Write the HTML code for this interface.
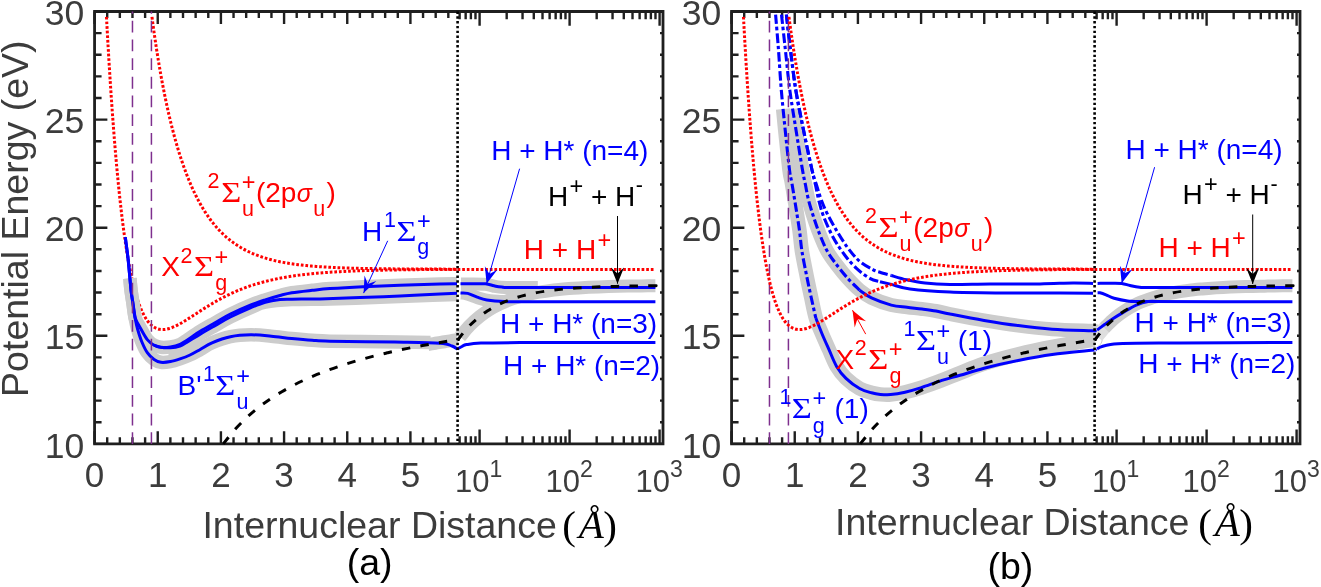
<!DOCTYPE html>
<html><head><meta charset="utf-8"><style>
html,body{margin:0;padding:0;background:#fff;overflow:hidden}
svg{display:block;will-change:transform}

</style></head><body>
<svg width="1321" height="587" viewBox="0 0 1321 587">
<rect width="1321" height="587" fill="#fff"/>
<g stroke="#1f1f1f" stroke-width="2.8" fill="none" stroke-linecap="square">
<path d="M94.57,11.5 L663,11.5 L663,443.9 L94.57,443.9 Z"/>
</g>
<path d="M94.57,443.9 h12.8 M663,443.9 h-3 M94.57,422.28 h7 M663,422.28 h-3 M94.57,400.66 h7 M663,400.66 h-3 M94.57,379.04 h7 M663,379.04 h-3 M94.57,357.42 h7 M663,357.42 h-3 M94.57,335.8 h12.8 M663,335.8 h-3 M94.57,314.18 h7 M663,314.18 h-3 M94.57,292.56 h7 M663,292.56 h-3 M94.57,270.94 h7 M663,270.94 h-3 M94.57,249.32 h7 M663,249.32 h-3 M94.57,227.7 h12.8 M663,227.7 h-3 M94.57,206.08 h7 M663,206.08 h-3 M94.57,184.46 h7 M663,184.46 h-3 M94.57,162.84 h7 M663,162.84 h-3 M94.57,141.22 h7 M663,141.22 h-3 M94.57,119.6 h12.8 M663,119.6 h-3 M94.57,97.98 h7 M663,97.98 h-3 M94.57,76.36 h7 M663,76.36 h-3 M94.57,54.74 h7 M663,54.74 h-3 M94.57,33.12 h7 M663,33.12 h-3 M94.57,11.5 h12.8 M663,11.5 h-3 M94.57,443.9 v-12.6 M94.57,11.5 v12.6 M107.2,443.9 v-6.6 M107.2,11.5 v6.6 M119.84,443.9 v-6.6 M119.84,11.5 v6.6 M132.47,443.9 v-6.6 M132.47,11.5 v6.6 M145.11,443.9 v-6.6 M145.11,11.5 v6.6 M157.74,443.9 v-12.6 M157.74,11.5 v12.6 M170.37,443.9 v-6.6 M170.37,11.5 v6.6 M183.01,443.9 v-6.6 M183.01,11.5 v6.6 M195.64,443.9 v-6.6 M195.64,11.5 v6.6 M208.28,443.9 v-6.6 M208.28,11.5 v6.6 M220.91,443.9 v-12.6 M220.91,11.5 v12.6 M233.54,443.9 v-6.6 M233.54,11.5 v6.6 M246.18,443.9 v-6.6 M246.18,11.5 v6.6 M258.81,443.9 v-6.6 M258.81,11.5 v6.6 M271.45,443.9 v-6.6 M271.45,11.5 v6.6 M284.08,443.9 v-12.6 M284.08,11.5 v12.6 M296.71,443.9 v-6.6 M296.71,11.5 v6.6 M309.35,443.9 v-6.6 M309.35,11.5 v6.6 M321.98,443.9 v-6.6 M321.98,11.5 v6.6 M334.62,443.9 v-6.6 M334.62,11.5 v6.6 M347.25,443.9 v-12.6 M347.25,11.5 v12.6 M359.88,443.9 v-6.6 M359.88,11.5 v6.6 M372.52,443.9 v-6.6 M372.52,11.5 v6.6 M385.15,443.9 v-6.6 M385.15,11.5 v6.6 M397.79,443.9 v-6.6 M397.79,11.5 v6.6 M410.42,443.9 v-12.6 M410.42,11.5 v12.6 M423.05,443.9 v-6.6 M423.05,11.5 v6.6 M435.69,443.9 v-6.6 M435.69,11.5 v6.6 M448.32,443.9 v-6.6 M448.32,11.5 v6.6 M459.63,443.9 v-7.7 M459.63,11.5 v7.7 M465.66,443.9 v-7.7 M465.66,11.5 v7.7 M470.88,443.9 v-7.7 M470.88,11.5 v7.7 M475.48,443.9 v-7.7 M475.48,11.5 v7.7 M479.6,443.9 v-14.3 M479.6,11.5 v14.3 M506.69,443.9 v-7.7 M506.69,11.5 v7.7 M522.54,443.9 v-7.7 M522.54,11.5 v7.7 M533.79,443.9 v-7.7 M533.79,11.5 v7.7 M542.51,443.9 v-7.7 M542.51,11.5 v7.7 M549.63,443.9 v-7.7 M549.63,11.5 v7.7 M555.66,443.9 v-7.7 M555.66,11.5 v7.7 M560.88,443.9 v-7.7 M560.88,11.5 v7.7 M565.48,443.9 v-7.7 M565.48,11.5 v7.7 M569.6,443.9 v-14.3 M569.6,11.5 v14.3 M596.69,443.9 v-7.7 M596.69,11.5 v7.7 M612.54,443.9 v-7.7 M612.54,11.5 v7.7 M623.79,443.9 v-7.7 M623.79,11.5 v7.7 M632.51,443.9 v-7.7 M632.51,11.5 v7.7 M639.63,443.9 v-7.7 M639.63,11.5 v7.7 M645.66,443.9 v-7.7 M645.66,11.5 v7.7 M650.88,443.9 v-7.7 M650.88,11.5 v7.7 M655.48,443.9 v-7.7 M655.48,11.5 v7.7 M659.6,443.9 v-14.3 M659.6,11.5 v14.3" stroke="#1f1f1f" stroke-width="2.4" fill="none"/>
<g font-family="Liberation Sans, sans-serif" font-size="35.5" fill="#3c3c3c" text-anchor="end">
<text x="84.3" y="457.5">10</text>
<text x="84.3" y="349.4">15</text>
<text x="84.3" y="241.3">20</text>
<text x="84.3" y="133.2">25</text>
<text x="84.3" y="25.1">30</text>
</g>
<g font-family="Liberation Sans, sans-serif" font-size="35" fill="#3c3c3c" text-anchor="middle">
<text x="94.57" y="487">0</text>
<text x="157.74" y="487">1</text>
<text x="220.91" y="487">2</text>
<text x="284.08" y="487">3</text>
<text x="347.25" y="487">4</text>
<text x="410.42" y="487">5</text>
</g>
<g font-family="Liberation Sans, sans-serif" fill="#3c3c3c">
<text x="455" y="492" font-size="31">10<tspan font-size="23" dy="-15.5">1</tspan></text>
<text x="545.5" y="492" font-size="31">10<tspan font-size="23" dy="-15.5">2</tspan></text>
<text x="635.4" y="492" font-size="31">10<tspan font-size="23" dy="-15.5">3</tspan></text>
</g>
<text x="202.45" y="537.9" font-family="Liberation Sans, sans-serif" font-size="37.5" fill="#3c3c3c">Internuclear Distance</text>
<g font-family="Liberation Serif, serif" font-size="41" fill="#000">
<text x="562.2" y="538.8">(</text>
<text x="578.75" y="538.3" font-style="italic">Å</text>
<text x="603.25" y="538.8">)</text>
</g>
<text x="346.7" y="575.3" font-family="Liberation Sans, sans-serif" font-size="37.5" fill="#000">(a)</text>
<g stroke="#1f1f1f" stroke-width="2.8" fill="none" stroke-linecap="square">
<path d="M731.57,11.5 L1300,11.5 L1300,443.9 L731.57,443.9 Z"/>
</g>
<path d="M731.57,443.9 h12.8 M1300,443.9 h-3 M731.57,422.28 h7 M1300,422.28 h-3 M731.57,400.66 h7 M1300,400.66 h-3 M731.57,379.04 h7 M1300,379.04 h-3 M731.57,357.42 h7 M1300,357.42 h-3 M731.57,335.8 h12.8 M1300,335.8 h-3 M731.57,314.18 h7 M1300,314.18 h-3 M731.57,292.56 h7 M1300,292.56 h-3 M731.57,270.94 h7 M1300,270.94 h-3 M731.57,249.32 h7 M1300,249.32 h-3 M731.57,227.7 h12.8 M1300,227.7 h-3 M731.57,206.08 h7 M1300,206.08 h-3 M731.57,184.46 h7 M1300,184.46 h-3 M731.57,162.84 h7 M1300,162.84 h-3 M731.57,141.22 h7 M1300,141.22 h-3 M731.57,119.6 h12.8 M1300,119.6 h-3 M731.57,97.98 h7 M1300,97.98 h-3 M731.57,76.36 h7 M1300,76.36 h-3 M731.57,54.74 h7 M1300,54.74 h-3 M731.57,33.12 h7 M1300,33.12 h-3 M731.57,11.5 h12.8 M1300,11.5 h-3 M731.57,443.9 v-12.6 M731.57,11.5 v12.6 M744.2,443.9 v-6.6 M744.2,11.5 v6.6 M756.84,443.9 v-6.6 M756.84,11.5 v6.6 M769.47,443.9 v-6.6 M769.47,11.5 v6.6 M782.11,443.9 v-6.6 M782.11,11.5 v6.6 M794.74,443.9 v-12.6 M794.74,11.5 v12.6 M807.37,443.9 v-6.6 M807.37,11.5 v6.6 M820.01,443.9 v-6.6 M820.01,11.5 v6.6 M832.64,443.9 v-6.6 M832.64,11.5 v6.6 M845.28,443.9 v-6.6 M845.28,11.5 v6.6 M857.91,443.9 v-12.6 M857.91,11.5 v12.6 M870.54,443.9 v-6.6 M870.54,11.5 v6.6 M883.18,443.9 v-6.6 M883.18,11.5 v6.6 M895.81,443.9 v-6.6 M895.81,11.5 v6.6 M908.45,443.9 v-6.6 M908.45,11.5 v6.6 M921.08,443.9 v-12.6 M921.08,11.5 v12.6 M933.71,443.9 v-6.6 M933.71,11.5 v6.6 M946.35,443.9 v-6.6 M946.35,11.5 v6.6 M958.98,443.9 v-6.6 M958.98,11.5 v6.6 M971.62,443.9 v-6.6 M971.62,11.5 v6.6 M984.25,443.9 v-12.6 M984.25,11.5 v12.6 M996.88,443.9 v-6.6 M996.88,11.5 v6.6 M1009.52,443.9 v-6.6 M1009.52,11.5 v6.6 M1022.15,443.9 v-6.6 M1022.15,11.5 v6.6 M1034.79,443.9 v-6.6 M1034.79,11.5 v6.6 M1047.42,443.9 v-12.6 M1047.42,11.5 v12.6 M1060.05,443.9 v-6.6 M1060.05,11.5 v6.6 M1072.69,443.9 v-6.6 M1072.69,11.5 v6.6 M1085.32,443.9 v-6.6 M1085.32,11.5 v6.6 M1096.63,443.9 v-7.7 M1096.63,11.5 v7.7 M1102.66,443.9 v-7.7 M1102.66,11.5 v7.7 M1107.88,443.9 v-7.7 M1107.88,11.5 v7.7 M1112.48,443.9 v-7.7 M1112.48,11.5 v7.7 M1116.6,443.9 v-14.3 M1116.6,11.5 v14.3 M1143.69,443.9 v-7.7 M1143.69,11.5 v7.7 M1159.54,443.9 v-7.7 M1159.54,11.5 v7.7 M1170.79,443.9 v-7.7 M1170.79,11.5 v7.7 M1179.51,443.9 v-7.7 M1179.51,11.5 v7.7 M1186.63,443.9 v-7.7 M1186.63,11.5 v7.7 M1192.66,443.9 v-7.7 M1192.66,11.5 v7.7 M1197.88,443.9 v-7.7 M1197.88,11.5 v7.7 M1202.48,443.9 v-7.7 M1202.48,11.5 v7.7 M1206.6,443.9 v-14.3 M1206.6,11.5 v14.3 M1233.69,443.9 v-7.7 M1233.69,11.5 v7.7 M1249.54,443.9 v-7.7 M1249.54,11.5 v7.7 M1260.79,443.9 v-7.7 M1260.79,11.5 v7.7 M1269.51,443.9 v-7.7 M1269.51,11.5 v7.7 M1276.63,443.9 v-7.7 M1276.63,11.5 v7.7 M1282.66,443.9 v-7.7 M1282.66,11.5 v7.7 M1287.88,443.9 v-7.7 M1287.88,11.5 v7.7 M1292.48,443.9 v-7.7 M1292.48,11.5 v7.7 M1296.6,443.9 v-14.3 M1296.6,11.5 v14.3" stroke="#1f1f1f" stroke-width="2.4" fill="none"/>
<g font-family="Liberation Sans, sans-serif" font-size="35.5" fill="#3c3c3c" text-anchor="end">
<text x="721.3" y="457.5">10</text>
<text x="721.3" y="349.4">15</text>
<text x="721.3" y="241.3">20</text>
<text x="721.3" y="133.2">25</text>
<text x="721.3" y="25.1">30</text>
</g>
<g font-family="Liberation Sans, sans-serif" font-size="35" fill="#3c3c3c" text-anchor="middle">
<text x="731.57" y="487">0</text>
<text x="794.74" y="487">1</text>
<text x="857.91" y="487">2</text>
<text x="921.08" y="487">3</text>
<text x="984.25" y="487">4</text>
<text x="1047.42" y="487">5</text>
</g>
<g font-family="Liberation Sans, sans-serif" fill="#3c3c3c">
<text x="1092" y="492" font-size="31">10<tspan font-size="23" dy="-15.5">1</tspan></text>
<text x="1182.5" y="492" font-size="31">10<tspan font-size="23" dy="-15.5">2</tspan></text>
<text x="1272.4" y="492" font-size="31">10<tspan font-size="23" dy="-15.5">3</tspan></text>
</g>
<text x="835.1" y="535.1" font-family="Liberation Sans, sans-serif" font-size="37.5" fill="#3c3c3c">Internuclear Distance</text>
<g font-family="Liberation Serif, serif" font-size="41" fill="#000">
<text x="1198.2" y="536.5">(</text>
<text x="1214.75" y="536" font-style="italic">Å</text>
<text x="1239.25" y="536.5">)</text>
</g>
<text x="987.4" y="578.7" font-family="Liberation Sans, sans-serif" font-size="37.5" fill="#000">(b)</text>
<path d="M106.47,16.91 C106.53,18.08 106.72,21.64 106.85,23.97 C106.98,26.31 107.1,28.62 107.23,30.9 C107.36,33.19 107.48,35.46 107.61,37.7 C107.73,39.95 107.86,42.17 107.99,44.37 C108.11,46.58 108.24,48.76 108.37,50.92 C108.49,53.08 108.62,55.21 108.75,57.33 C108.87,59.45 109,61.55 109.12,63.62 C109.25,65.7 109.38,67.76 109.5,69.79 C109.63,71.83 109.76,73.85 109.88,75.85 C110.01,77.84 110.13,79.82 110.26,81.78 C110.39,83.74 110.51,85.68 110.64,87.6 C110.77,89.52 110.89,91.42 111.02,93.3 C111.15,95.18 111.27,97.05 111.4,98.89 C111.52,100.74 111.65,102.57 111.78,104.38 C111.9,106.19 112.03,107.98 112.16,109.75 C112.28,111.53 112.41,113.28 112.54,115.02 C112.66,116.76 112.79,118.48 112.91,120.19 C113.04,121.89 113.15,123.31 113.29,125.25 C113.44,127.19 113.63,129.67 113.8,131.84 C113.97,134.01 114.14,136.15 114.3,138.26 C114.47,140.37 114.64,142.46 114.81,144.51 C114.98,146.57 115.15,148.59 115.31,150.59 C115.48,152.59 115.65,154.56 115.82,156.51 C115.99,158.46 116.16,160.38 116.33,162.27 C116.49,164.16 116.66,166.03 116.83,167.87 C117,169.71 117.17,171.53 117.34,173.32 C117.5,175.12 117.67,176.88 117.84,178.63 C118.01,180.37 118.18,182.09 118.35,183.78 C118.52,185.48 118.66,186.95 118.85,188.8 C119.04,190.65 119.27,192.88 119.48,194.87 C119.69,196.86 119.91,198.82 120.12,200.74 C120.33,202.66 120.54,204.55 120.75,206.4 C120.96,208.25 121.17,210.07 121.38,211.86 C121.59,213.65 121.8,215.41 122.01,217.13 C122.22,218.86 122.41,220.39 122.64,222.22 C122.87,224.04 123.15,226.17 123.4,228.08 C123.65,229.99 123.91,231.86 124.16,233.69 C124.41,235.52 124.66,237.31 124.92,239.06 C125.17,240.81 125.4,242.38 125.67,244.19 C125.95,245.99 126.26,248.04 126.56,249.89 C126.85,251.74 127.15,253.54 127.44,255.3 C127.74,257.05 128.01,258.65 128.33,260.42 C128.64,262.2 129,264.16 129.34,265.95 C129.68,267.73 129.99,269.36 130.35,271.14 C130.71,272.91 131.11,274.84 131.49,276.59 C131.87,278.34 132.22,279.95 132.62,281.66 C133.02,283.37 133.44,285.12 133.89,286.86 C134.33,288.6 134.79,290.37 135.28,292.1 C135.76,293.84 136.27,295.58 136.79,297.27 C137.32,298.97 137.87,300.66 138.43,302.29 C139,303.91 139.57,305.47 140.2,307.05 C140.84,308.62 141.49,310.19 142.23,311.75 C142.96,313.31 143.76,314.93 144.63,316.42 C145.49,317.92 146.39,319.38 147.41,320.73 C148.42,322.08 149.47,323.38 150.69,324.52 C151.91,325.65 153.26,326.76 154.73,327.55 C156.21,328.35 157.89,328.98 159.53,329.3 C161.18,329.63 162.92,329.63 164.59,329.49 C166.25,329.35 167.89,328.93 169.51,328.46 C171.14,327.98 172.76,327.31 174.32,326.63 C175.87,325.96 177.37,325.18 178.86,324.38 C180.36,323.59 181.83,322.73 183.29,321.87 C184.74,321 186.15,320.12 187.58,319.22 C189.01,318.32 190.44,317.39 191.88,316.46 C193.31,315.54 194.74,314.6 196.17,313.67 C197.6,312.73 199.04,311.8 200.47,310.88 C201.9,309.95 203.33,309.03 204.76,308.13 C206.2,307.23 207.63,306.34 209.06,305.47 C210.49,304.59 211.9,303.75 213.35,302.9 C214.81,302.05 216.3,301.19 217.78,300.37 C219.25,299.55 220.7,298.76 222.2,297.97 C223.69,297.19 225.23,296.4 226.75,295.65 C228.26,294.9 229.76,294.18 231.29,293.47 C232.83,292.76 234.41,292.05 235.97,291.38 C237.53,290.71 239.09,290.06 240.64,289.44 C242.2,288.82 243.74,288.23 245.32,287.65 C246.9,287.07 248.52,286.49 250.12,285.95 C251.72,285.41 253.32,284.89 254.92,284.39 C256.52,283.9 258.1,283.43 259.72,282.97 C261.34,282.51 263.01,282.06 264.65,281.63 C266.29,281.21 267.93,280.8 269.58,280.41 C271.22,280.03 272.86,279.66 274.5,279.31 C276.15,278.96 277.79,278.63 279.43,278.31 C281.07,277.99 282.69,277.69 284.36,277.4 C286.02,277.11 287.73,276.82 289.41,276.56 C291.1,276.29 292.78,276.04 294.46,275.8 C296.15,275.56 297.83,275.33 299.52,275.12 C301.2,274.9 302.89,274.7 304.57,274.5 C306.26,274.31 307.94,274.12 309.63,273.95 C311.31,273.77 312.99,273.61 314.68,273.45 C316.36,273.3 318.05,273.15 319.73,273.01 C321.42,272.87 323.1,272.73 324.79,272.61 C326.47,272.48 328.16,272.36 329.84,272.25 C331.52,272.13 333.21,272.03 334.89,271.93 C336.58,271.82 338.26,271.73 339.95,271.64 C341.63,271.55 343.32,271.46 345,271.38 C346.69,271.3 348.37,271.22 350.05,271.15 C351.74,271.08 353.42,271.01 355.11,270.94 C356.79,270.88 358.48,270.82 360.16,270.76 C361.85,270.7 363.53,270.65 365.22,270.59 C366.9,270.54 368.58,270.49 370.27,270.45 C371.95,270.4 373.64,270.35 375.32,270.31 C377.01,270.27 378.69,270.23 380.38,270.19 C382.06,270.16 383.75,270.12 385.43,270.09 C387.11,270.06 388.8,270.02 390.48,270 C392.17,269.97 393.85,269.94 395.54,269.91 C397.22,269.88 398.91,269.86 400.59,269.84 C402.28,269.81 403.96,269.79 405.64,269.77 C407.33,269.75 409.01,269.73 410.7,269.71 C412.38,269.69 414.07,269.67 415.75,269.65 C417.44,269.64 419.12,269.62 420.8,269.61 C422.49,269.59 424.17,269.58 425.86,269.56 C427.54,269.55 429.23,269.54 430.91,269.53 C432.6,269.51 434.28,269.5 435.97,269.49 C437.65,269.48 439.33,269.47 441.02,269.46 C442.7,269.45 444.39,269.44 446.07,269.43 C447.76,269.43 449.44,269.42 451.13,269.41 C452.81,269.4 455.11,269.39 456.18,269.39 C457.25,269.38 457.32,269.38 457.54,269.38" fill="none" stroke="#ff0000" stroke-width="3" stroke-dasharray="2.7 1.9" />
<path d="M151.97,16.9 C152.1,17.86 152.48,20.75 152.73,22.63 C152.98,24.5 153.23,26.36 153.49,28.18 C153.74,30.01 153.99,31.81 154.24,33.58 C154.5,35.36 154.75,37.11 155,38.83 C155.25,40.56 155.51,42.26 155.76,43.94 C156.01,45.62 156.24,47.15 156.52,48.91 C156.79,50.68 157.11,52.7 157.4,54.55 C157.7,56.4 157.99,58.22 158.29,60.01 C158.58,61.8 158.88,63.57 159.17,65.31 C159.47,67.05 159.76,68.76 160.06,70.45 C160.35,72.14 160.62,73.69 160.94,75.44 C161.26,77.19 161.61,79.16 161.95,80.97 C162.29,82.78 162.62,84.57 162.96,86.32 C163.3,88.07 163.64,89.8 163.97,91.5 C164.31,93.2 164.63,94.77 164.98,96.51 C165.34,98.26 165.74,100.18 166.12,101.97 C166.5,103.76 166.88,105.51 167.26,107.23 C167.64,108.96 168.02,110.65 168.39,112.32 C168.77,113.99 169.13,115.54 169.53,117.23 C169.93,118.93 170.37,120.77 170.79,122.5 C171.22,124.22 171.64,125.91 172.06,127.56 C172.48,129.22 172.88,130.77 173.32,132.45 C173.76,134.12 174.25,135.93 174.71,137.62 C175.17,139.3 175.62,140.89 176.1,142.58 C176.59,144.27 177.11,146.07 177.62,147.77 C178.12,149.46 178.61,151.05 179.13,152.74 C179.66,154.42 180.23,156.21 180.78,157.88 C181.32,159.56 181.85,161.14 182.42,162.8 C182.99,164.46 183.6,166.2 184.19,167.84 C184.78,169.48 185.34,171.02 185.96,172.64 C186.57,174.25 187.22,175.94 187.85,177.52 C188.48,179.11 189.09,180.6 189.75,182.16 C190.4,183.71 191.07,185.27 191.77,186.84 C192.46,188.4 193.18,189.97 193.91,191.53 C194.65,193.09 195.41,194.66 196.19,196.21 C196.97,197.76 197.77,199.31 198.59,200.84 C199.41,202.37 200.25,203.89 201.12,205.39 C201.98,206.89 202.86,208.38 203.77,209.84 C204.67,211.31 205.6,212.75 206.55,214.17 C207.5,215.59 208.47,216.99 209.45,218.36 C210.44,219.73 211.43,221.06 212.49,222.4 C213.54,223.74 214.66,225.1 215.77,226.4 C216.89,227.7 218.02,228.97 219.18,230.2 C220.34,231.43 221.5,232.61 222.72,233.78 C223.94,234.96 225.23,236.14 226.51,237.26 C227.8,238.37 229.1,239.45 230.43,240.49 C231.75,241.53 233.1,242.52 234.47,243.48 C235.84,244.44 237.21,245.35 238.64,246.24 C240.07,247.14 241.57,248.02 243.06,248.85 C244.56,249.68 246.09,250.47 247.61,251.22 C249.13,251.96 250.62,252.65 252.16,253.31 C253.69,253.98 255.25,254.61 256.83,255.21 C258.41,255.82 260.03,256.39 261.63,256.93 C263.23,257.46 264.81,257.96 266.43,258.43 C268.06,258.91 269.72,259.36 271.36,259.79 C273,260.21 274.65,260.6 276.29,260.97 C277.93,261.34 279.57,261.68 281.22,262 C282.86,262.33 284.48,262.62 286.14,262.91 C287.81,263.19 289.51,263.47 291.2,263.72 C292.88,263.97 294.57,264.2 296.25,264.42 C297.93,264.64 299.62,264.85 301.3,265.04 C302.99,265.23 304.67,265.41 306.36,265.58 C308.04,265.74 309.73,265.9 311.41,266.04 C313.1,266.19 314.78,266.32 316.46,266.45 C318.15,266.58 319.83,266.69 321.52,266.8 C323.2,266.92 324.89,267.02 326.57,267.11 C328.26,267.21 329.94,267.3 331.63,267.38 C333.31,267.47 334.99,267.54 336.68,267.62 C338.36,267.69 340.05,267.76 341.73,267.82 C343.42,267.89 345.1,267.95 346.79,268 C348.47,268.06 350.16,268.11 351.84,268.16 C353.52,268.2 355.21,268.25 356.89,268.29 C358.58,268.33 360.26,268.37 361.95,268.41 C363.63,268.45 365.32,268.48 367,268.51 C368.69,268.54 370.37,268.57 372.05,268.6 C373.74,268.63 375.42,268.66 377.11,268.68 C378.79,268.7 380.48,268.73 382.16,268.75 C383.85,268.77 385.53,268.79 387.22,268.81 C388.9,268.83 390.58,268.84 392.27,268.86 C393.95,268.88 395.64,268.89 397.32,268.9 C399.01,268.92 400.69,268.93 402.38,268.94 C404.06,268.96 405.75,268.97 407.43,268.98 C409.11,268.99 410.8,269 412.48,269.01 C414.17,269.02 415.85,269.03 417.54,269.03 C419.22,269.04 420.91,269.05 422.59,269.06 C424.27,269.06 425.96,269.07 427.64,269.08 C429.33,269.08 431.01,269.09 432.7,269.09 C434.38,269.1 436.07,269.1 437.75,269.11 C439.44,269.11 441.12,269.12 442.8,269.12 C444.49,269.13 446.17,269.13 447.86,269.13 C449.54,269.14 451.3,269.14 452.91,269.14 C454.53,269.15 456.77,269.15 457.54,269.15" fill="none" stroke="#ff0000" stroke-width="3" stroke-dasharray="2.7 1.9" />
<path d="M129.92,278.4 C130.1,280.33 130.49,285.8 131,290 C131.51,294.2 132.3,298.93 133,303.6 C133.7,308.27 133.95,313.9 135.2,318 C136.45,322.1 138.48,324.6 140.5,328.2 C142.52,331.8 145.03,336.77 147.3,339.6 C149.57,342.43 151.83,343.92 154.1,345.2 C156.37,346.48 158.17,347.02 160.9,347.3 C163.63,347.58 167.32,347.38 170.5,346.9 C173.68,346.42 177.32,345.48 180,344.4 C182.68,343.32 183.23,342.58 186.6,340.4 C189.97,338.22 195.47,334.23 200.2,331.3 C204.93,328.37 209.97,325.65 215,322.8 C220.03,319.95 224.42,317.17 230.4,314.2 C236.38,311.23 245.1,307.38 250.9,305 C256.7,302.62 260.35,301.48 265.2,299.9 C270.05,298.32 275.57,296.7 280,295.5 C284.43,294.3 286.43,293.57 291.8,292.7 C297.17,291.83 305.83,290.98 312.2,290.3 C318.57,289.62 321.53,289.2 330,288.6 C338.47,288 351.33,287.25 363,286.7 C374.67,286.15 387.17,285.75 400,285.3 C412.83,284.85 430.5,284.27 440,284 C449.5,283.73 454.17,283.75 457,283.7" fill="none" stroke="#cccccc" stroke-width="13.5" stroke-linecap="butt"/>
<path d="M168,349.2 C169.33,349.07 172.9,349.43 176,348.4 C179.1,347.37 182.57,345.38 186.6,343 C190.63,340.62 195.47,337 200.2,334.1 C204.93,331.2 209.97,328.45 215,325.6 C220.03,322.75 224.42,320 230.4,317 C236.38,314 245.1,310.07 250.9,307.6 C256.7,305.13 258.38,303.53 265.2,302.2 C272.02,300.87 281,300.13 291.8,299.6 C302.6,299.07 315.3,299.38 330,299 C344.7,298.62 365,297.83 380,297.3 C395,296.77 407.17,296.27 420,295.8 C432.83,295.33 450.83,294.72 457,294.5" fill="none" stroke="#cccccc" stroke-width="13.5" stroke-linecap="butt"/>
<path d="M129.92,278.4 C130.1,280.33 130.49,285.8 131,290 C131.51,294.2 132.25,298.6 133,303.6 C133.75,308.6 134.72,315.68 135.5,320 C136.28,324.32 136.65,325.87 137.7,329.5 C138.75,333.13 140.2,337.93 141.8,341.8 C143.4,345.67 145.25,349.75 147.3,352.7 C149.35,355.65 151.83,357.9 154.1,359.5 C156.37,361.1 158.17,361.95 160.9,362.3 C163.63,362.65 167.32,362.17 170.5,361.6 C173.68,361.03 176.75,360 180,358.9 C183.25,357.8 186.63,356.57 190,355 C193.37,353.43 196.53,351.53 200.2,349.5 C203.87,347.47 206.97,344.93 212,342.8 C217.03,340.67 223.92,338.03 230.4,336.7 C236.88,335.37 244.08,334.88 250.9,334.8 C257.72,334.72 264.48,335.58 271.3,336.2 C278.12,336.82 284.98,337.82 291.8,338.5 C298.62,339.18 305.83,339.85 312.2,340.3 C318.57,340.75 318.7,340.95 330,341.2 C341.3,341.45 363.25,341.6 380,341.8 C396.75,342 422.08,342.3 430.5,342.4" fill="none" stroke="#cccccc" stroke-width="13.5" stroke-linecap="butt"/>
<path d="M461,283.9 C462.5,283.9 466,283.85 470,283.9 C474,283.95 481.17,283.85 485,284.2 C488.83,284.55 490.33,285.5 493,286 C495.67,286.5 496.5,286.95 501,287.2 C505.5,287.45 513.87,287.43 520,287.5 C526.13,287.57 534.83,287.58 537.8,287.6" fill="none" stroke="#cccccc" stroke-width="13" />
<path d="M461,293.1 C461.67,293.15 463.17,293 465,293.4 C466.83,293.8 469.5,294.65 472,295.5 C474.5,296.35 477,297.63 480,298.5 C483,299.37 486.67,300.22 490,300.7 C493.33,301.18 497.33,301.25 500,301.4 C502.67,301.55 505,301.57 506,301.6" fill="none" stroke="#cccccc" stroke-width="13" />
<path d="M460.07,336.81 C461.72,334.89 466.67,328.7 469.96,325.29 C473.26,321.88 476.56,319.01 479.85,316.37 C483.15,313.73 486.45,311.49 489.74,309.45 C493.04,307.4 496.34,305.66 499.63,304.07 C502.93,302.48 506.23,301.14 509.52,299.91 C512.82,298.67 516.12,297.63 519.41,296.67 C522.71,295.71 526.01,294.9 529.3,294.15 C532.6,293.41 535.9,292.78 539.19,292.2 C542.49,291.63 545.79,291.14 549.08,290.69 C552.38,290.24 555.68,289.86 558.97,289.51 C562.27,289.16 565.57,288.87 568.86,288.6 C572.16,288.33 575.46,288.1 578.75,287.89 C582.05,287.68 585.35,287.5 588.64,287.34 C591.94,287.18 595.24,287.04 598.53,286.91 C601.83,286.78 605.13,286.68 608.42,286.58 C611.72,286.48 615.02,286.4 618.31,286.32 C621.61,286.24 624.91,286.18 628.2,286.12 C631.5,286.06 634.8,286.01 638.09,285.97 C641.39,285.92 645.1,285.88 647.98,285.84 C650.87,285.81 654.16,285.78 655.4,285.77" fill="none" stroke="#cccccc" stroke-width="13" stroke-linecap="butt"/>
<path d="M428,344.53 C428.62,344.42 430.47,344.1 431.7,343.88 C432.93,343.67 434.17,343.45 435.4,343.24 C436.63,343.03 437.87,342.82 439.1,342.62 C440.33,342.41 441.57,342.21 442.8,342.01 C444.03,341.81 445.27,341.61 446.5,341.41 C447.73,341.21 448.97,341.02 450.2,340.82 C451.43,340.63 452.67,340.44 453.9,340.25 C455.13,340.06 456.98,339.78 457.6,339.69" fill="none" stroke="#cccccc" stroke-width="13" />
<path d="M457.6,269.5 L655.4,269.5" fill="none" stroke="#ff0000" stroke-width="3" stroke-dasharray="2.7 1.9" />
<path d="M154.1,345.2 C155.23,345.56 158.17,346.95 160.9,347.37 C163.63,347.8 167.32,347.97 170.5,347.74 C173.68,347.51 177.32,346.87 180,346 C182.68,345.13 183.23,344.51 186.6,342.53 C189.97,340.54 195.47,336.92 200.2,334.1 C204.93,331.28 209.97,328.45 215,325.6 C220.03,322.75 224.42,320 230.4,317 C236.38,314 245.1,310.07 250.9,307.6 C256.7,305.13 260.35,303.53 265.2,302.2 C270.05,300.87 275.57,300.1 280,299.6 C284.43,299.1 285.13,299.32 291.8,299.2 C298.47,299.08 308.63,299.17 320,298.9 C331.37,298.63 346.67,298.1 360,297.6 C373.33,297.1 386.67,296.5 400,295.9 C413.33,295.3 430.5,294.45 440,294 C449.5,293.55 454.17,293.33 457,293.2" fill="none" stroke="#0000ff" stroke-width="3" />
<path d="M125.3,237.3 C125.78,241.08 127.25,251.22 128.2,260 C129.15,268.78 130.2,282.73 131,290 C131.8,297.27 132.3,298.93 133,303.6 C133.7,308.27 133.95,313.9 135.2,318 C136.45,322.1 138.48,324.6 140.5,328.2 C142.52,331.8 145.03,336.77 147.3,339.6 C149.57,342.43 151.83,343.92 154.1,345.2 C156.37,346.48 158.17,347.02 160.9,347.3 C163.63,347.58 167.32,347.38 170.5,346.9 C173.68,346.42 177.32,345.48 180,344.4 C182.68,343.32 183.23,342.58 186.6,340.4 C189.97,338.22 195.47,334.23 200.2,331.3 C204.93,328.37 209.97,325.65 215,322.8 C220.03,319.95 224.42,317.17 230.4,314.2 C236.38,311.23 245.1,307.38 250.9,305 C256.7,302.62 260.35,301.48 265.2,299.9 C270.05,298.32 275.57,296.7 280,295.5 C284.43,294.3 286.43,293.57 291.8,292.7 C297.17,291.83 305.83,290.98 312.2,290.3 C318.57,289.62 321.53,289.2 330,288.6 C338.47,288 351.33,287.25 363,286.7 C374.67,286.15 387.17,285.75 400,285.3 C412.83,284.85 430.5,284.27 440,284 C449.5,283.73 454.17,283.75 457,283.7" fill="none" stroke="#0000ff" stroke-width="3" />
<path d="M125.3,237.3 C125.78,241.08 127.25,251.22 128.2,260 C129.15,268.78 130.2,282.73 131,290 C131.8,297.27 132.25,298.6 133,303.6 C133.75,308.6 134.72,315.68 135.5,320 C136.28,324.32 136.65,325.87 137.7,329.5 C138.75,333.13 140.2,337.93 141.8,341.8 C143.4,345.67 145.25,349.75 147.3,352.7 C149.35,355.65 151.83,357.9 154.1,359.5 C156.37,361.1 158.17,361.95 160.9,362.3 C163.63,362.65 167.32,362.17 170.5,361.6 C173.68,361.03 176.75,360 180,358.9 C183.25,357.8 186.63,356.57 190,355 C193.37,353.43 196.53,351.53 200.2,349.5 C203.87,347.47 206.97,344.93 212,342.8 C217.03,340.67 223.92,338.03 230.4,336.7 C236.88,335.37 244.08,334.88 250.9,334.8 C257.72,334.72 264.48,335.58 271.3,336.2 C278.12,336.82 284.98,337.82 291.8,338.5 C298.62,339.18 305.83,339.85 312.2,340.3 C318.57,340.75 316.2,340.9 330,341.2 C343.8,341.5 376.67,341.77 395,342.1 C413.33,342.43 430.5,342.55 440,343.2 C449.5,343.85 449.1,345.03 452,346 C454.9,346.97 456.5,348.5 457.4,349" fill="none" stroke="#0000ff" stroke-width="3" />
<path d="M460.5,283.7 C462.08,283.72 465.85,283.78 470,283.8 C474.15,283.82 481.4,283.47 485.4,283.8 C489.4,284.13 491.27,285.27 494,285.8 C496.73,286.33 497.47,286.72 501.8,287 C506.13,287.28 494.4,287.4 520,287.5 C545.6,287.6 632.83,287.58 655.4,287.6" fill="none" stroke="#0000ff" stroke-width="3" />
<path d="M460.5,293 C461.7,293.07 464.92,292.7 467.7,293.4 C470.48,294.1 474.02,296.1 477.2,297.2 C480.38,298.3 482.25,299.27 486.8,300 C491.35,300.73 497.3,301.3 504.5,301.6 C511.7,301.9 504.85,301.77 530,301.8 C555.15,301.83 634.5,301.8 655.4,301.8" fill="none" stroke="#0000ff" stroke-width="3" />
<path d="M457.4,349 C458.17,348.58 460.47,347.23 462,346.5 C463.53,345.77 463.45,345.17 466.6,344.6 C469.75,344.03 472,343.43 480.9,343.1 C489.8,342.77 490.92,342.7 520,342.6 C549.08,342.5 632.83,342.52 655.4,342.5" fill="none" stroke="#0000ff" stroke-width="3" />
<line x1="132.47" y1="11.5" x2="132.47" y2="443.9" stroke="#7e2f8e" stroke-width="1.5" stroke-dasharray="11.8 6.91" stroke-dashoffset="9.5"/>
<line x1="151.42" y1="11.5" x2="151.42" y2="443.9" stroke="#7e2f8e" stroke-width="1.5" stroke-dasharray="11.8 6.91" stroke-dashoffset="9.5"/>
<path d="M223.26,443.9 C225.21,441.5 231.07,433.87 234.97,429.49 C238.88,425.1 242.78,421.25 246.69,417.61 C250.59,413.96 254.5,410.7 258.4,407.62 C262.3,404.53 266.21,401.74 270.11,399.09 C274.02,396.44 277.92,394.01 281.83,391.71 C285.73,389.4 289.64,387.28 293.54,385.25 C297.45,383.23 301.35,381.35 305.26,379.56 C309.16,377.76 313.07,376.09 316.97,374.49 C320.88,372.88 324.78,371.38 328.69,369.94 C332.59,368.51 336.5,367.15 340.4,365.85 C344.31,364.55 348.21,363.32 352.12,362.14 C356.02,360.96 359.92,359.84 363.83,358.76 C367.73,357.68 371.64,356.66 375.54,355.67 C379.45,354.68 383.35,353.74 387.26,352.83 C391.16,351.92 395.07,351.05 398.97,350.21 C402.88,349.37 406.78,348.57 410.69,347.79 C414.59,347.02 418.5,346.27 422.4,345.55 C426.31,344.83 430.21,344.13 434.12,343.46 C438.02,342.79 441.93,342.14 445.83,341.52 C449.74,340.89 455.59,340 457.54,339.7 C459.5,339.39 457.54,339.7 457.54,339.7" fill="none" stroke="#000" stroke-width="3" stroke-dasharray="8.5 10.3" />
<path d="M457.6,340.18 C459.25,338.13 464.19,331.53 467.49,327.9 C470.79,324.27 474.08,321.2 477.38,318.39 C480.68,315.58 483.97,313.2 487.27,311.02 C490.57,308.83 493.86,306.99 497.16,305.29 C500.46,303.6 503.75,302.17 507.05,300.85 C510.35,299.54 513.64,298.42 516.94,297.4 C520.24,296.38 523.53,295.52 526.83,294.72 C530.13,293.93 533.42,293.26 536.72,292.65 C540.02,292.03 543.31,291.51 546.61,291.03 C549.91,290.55 553.2,290.15 556.5,289.78 C559.8,289.41 563.09,289.09 566.39,288.81 C569.69,288.52 572.98,288.27 576.28,288.05 C579.58,287.83 582.87,287.64 586.17,287.46 C589.47,287.29 592.76,287.14 596.06,287.01 C599.36,286.87 602.65,286.76 605.95,286.65 C609.25,286.55 612.54,286.46 615.84,286.38 C619.14,286.3 622.43,286.23 625.73,286.17 C629.03,286.1 632.32,286.05 635.62,286 C638.92,285.95 642.21,285.91 645.51,285.87 C648.81,285.83 653.75,285.79 655.4,285.77 C657.05,285.76 655.4,285.77 655.4,285.77" fill="none" stroke="#000" stroke-width="3" stroke-dasharray="8.5 10.3" />
<line x1="457.6" y1="11.5" x2="457.6" y2="443.9" stroke="#000" stroke-width="2.6" stroke-dasharray="2.4 2.4"/>
<line x1="387.7" y1="240.8" x2="363.6" y2="293.1" stroke="#0000ff" stroke-width="1"/>
<path d="M363.6,293.1 L364.52,275.58 L367.83,283.92 L376.33,281.02 Z" fill="#0000ff"/>
<line x1="519.6" y1="168.7" x2="486.6" y2="283.7" stroke="#0000ff" stroke-width="1"/>
<path d="M486.6,283.7 L484.85,266.24 L489.39,273.99 L497.34,269.83 Z" fill="#0000ff"/>
<line x1="617.5" y1="216" x2="617.5" y2="283.7" stroke="#000" stroke-width="1"/>
<path d="M617.5,283.7 L611,267.4 L617.5,273.59 L624,267.4 Z" fill="#000"/>
<g font-family="Liberation Sans, sans-serif" fill="#ff0000">
<text x="207.6" y="188.3" font-size="21.5" xml:space="preserve">2</text>
<text transform="translate(221.13,202.3) scale(1.15,1)" font-family="Liberation Serif, serif" font-size="30">Σ</text>
<text x="241.7" y="189.8" font-size="23.5" xml:space="preserve">+</text>
<text x="242" y="216" font-size="21.5" xml:space="preserve">u</text>
<text x="255.9" y="202.3" font-size="28" xml:space="preserve">(2p</text>
<text x="296.8" y="202.3" font-size="25" font-style="italic" xml:space="preserve">σ</text>
<text x="313.3" y="216" font-size="21.5" xml:space="preserve">u</text>
<text x="326.6" y="202.3" font-size="28" xml:space="preserve">)</text>
</g>
<g font-family="Liberation Sans, sans-serif" fill="#ff0000">
<text x="161.3" y="276.4" font-size="28" xml:space="preserve">X</text>
<text x="180.5" y="262.6" font-size="21.5" xml:space="preserve">2</text>
<text transform="translate(193.93,276.4) scale(1.15,1)" font-family="Liberation Serif, serif" font-size="30">Σ</text>
<text x="214.5" y="265" font-size="23.5" xml:space="preserve">+</text>
<text x="215.2" y="290.4" font-size="21.5" xml:space="preserve">g</text>
</g>
<g font-family="Liberation Sans, sans-serif" fill="#0000ff">
<text x="362.1" y="240.8" font-size="28" xml:space="preserve">H</text>
<text x="383.9" y="226.5" font-size="21.5" xml:space="preserve">1</text>
<text transform="translate(396.53,240.8) scale(1.15,1)" font-family="Liberation Serif, serif" font-size="30">Σ</text>
<text x="417.1" y="228.7" font-size="23.5" xml:space="preserve">+</text>
<text x="417.3" y="253.8" font-size="21.5" xml:space="preserve">g</text>
</g>
<g font-family="Liberation Sans, sans-serif" fill="#0000ff">
<text x="177.5" y="394.8" font-size="28" xml:space="preserve">B'</text>
<text x="203" y="380.5" font-size="21.5" xml:space="preserve">1</text>
<text transform="translate(215.13,394.8) scale(1.15,1)" font-family="Liberation Serif, serif" font-size="30">Σ</text>
<text x="236.2" y="383.5" font-size="23.5" xml:space="preserve">+</text>
<text x="236.5" y="408.9" font-size="21.5" xml:space="preserve">u</text>
</g>
<g font-family="Liberation Sans, sans-serif" fill="#0000ff">
<text x="491.2" y="160" font-size="28" xml:space="preserve">H + H* (n=4)</text>
</g>
<g font-family="Liberation Sans, sans-serif" fill="#000">
<text x="547.9" y="205.5" font-size="28" xml:space="preserve">H</text>
<text x="569.4" y="193.5" font-size="23.5" xml:space="preserve">+</text>
<text x="590.9" y="205.5" font-size="28" xml:space="preserve">+</text>
<text x="614.9" y="205.5" font-size="28" xml:space="preserve">H</text>
<text x="635.8" y="192" font-size="21.5" xml:space="preserve">-</text>
</g>
<g font-family="Liberation Sans, sans-serif" fill="#ff0000">
<text x="523.8" y="259.3" font-size="28" xml:space="preserve">H + H</text>
<text x="597.5" y="247.5" font-size="23.5" xml:space="preserve">+</text>
</g>
<g font-family="Liberation Sans, sans-serif" fill="#0000ff">
<text x="500" y="333.4" font-size="28" xml:space="preserve">H + H* (n=3)</text>
</g>
<g font-family="Liberation Sans, sans-serif" fill="#0000ff">
<text x="503" y="374.8" font-size="28" xml:space="preserve">H + H* (n=2)</text>
</g>
<path d="M783.15,109 C783.49,112.5 784.14,119.83 785.2,130 C786.26,140.17 788.42,161.33 789.5,170 C790.58,178.67 790.7,176.17 791.7,182 C792.7,187.83 794.2,196.9 795.5,205 C796.8,213.1 798.43,222.93 799.5,230.6 C800.57,238.27 800.68,243.33 801.9,251 C803.12,258.67 805.27,268.93 806.8,276.6 C808.33,284.27 809.6,290.1 811.1,297 C812.6,303.9 813.97,311.83 815.8,318 C817.63,324.17 819.92,328.77 822.1,334 C824.28,339.23 826.48,344 828.9,349.4 C831.32,354.8 833.75,361.58 836.6,366.4 C839.45,371.22 842.17,374.62 846,378.3 C849.83,381.98 855.35,386.08 859.6,388.5 C863.85,390.92 868.03,391.82 871.5,392.8 C874.97,393.78 877.2,394.1 880.4,394.4 C883.6,394.7 886.6,394.97 890.7,394.6 C894.8,394.23 899.9,393.37 905,392.2 C910.1,391.03 915.17,389.6 921.3,387.6 C927.43,385.6 935.35,382.66 941.8,380.21 C948.25,377.76 952.95,375.65 960,372.89 C967.05,370.14 974.4,366.79 984.1,363.68 C993.8,360.58 1006.85,357.06 1018.2,354.27 C1029.55,351.47 1040,349.26 1052.2,346.91 C1064.4,344.56 1084.37,341.37 1091.4,340.17 C1098.43,338.97 1093.9,339.79 1094.4,339.72" fill="none" stroke="#cccccc" stroke-width="14.5" stroke-linecap="butt"/>
<path d="M792.75,109 C793.29,112.5 794.37,119.83 796,130 C797.63,140.17 800.92,160.83 802.5,170 C804.08,179.17 804.5,180 805.5,185 C806.5,190 807.15,194.67 808.5,200 C809.85,205.33 811.75,211.33 813.6,217 C815.45,222.67 817.33,228.32 819.6,234 C821.87,239.68 824.37,245.98 827.2,251.1 C830.03,256.22 833.18,260.17 836.6,264.7 C840.02,269.23 843.87,274.05 847.7,278.3 C851.53,282.55 855.63,286.93 859.6,290.2 C863.57,293.47 866.22,295.42 871.5,297.9 C876.78,300.38 885.38,303.53 891.3,305.1 C897.22,306.67 901.88,306.65 907,307.3 C912.12,307.95 917.17,308.38 922,309 C926.83,309.62 931.33,310.17 936,311 C940.67,311.83 941.98,312.43 950,314 C958.02,315.57 972.73,318.47 984.1,320.4 C995.47,322.33 1006.85,324.13 1018.2,325.6 C1029.55,327.07 1040,328.33 1052.2,329.2 C1064.4,330.07 1084.37,330.52 1091.4,330.8 C1098.43,331.08 1093.9,330.88 1094.4,330.9" fill="none" stroke="#cccccc" stroke-width="14" stroke-linecap="butt"/>
<path d="M1097.07,336.81 C1097.48,336.28 1098.72,334.67 1099.55,333.64 C1100.37,332.62 1101.19,331.64 1102.02,330.68 C1102.84,329.72 1103.67,328.8 1104.49,327.9 C1105.31,327 1106.55,325.72 1106.96,325.29" fill="none" stroke="#dedede" stroke-width="13" stroke-linecap="butt"/>
<path d="M1104.49,327.9 C1105.73,326.67 1109.43,322.78 1111.91,320.55 C1114.38,318.31 1116.85,316.32 1119.33,314.47 C1121.8,312.62 1124.27,310.98 1126.74,309.45 C1129.22,307.92 1131.69,306.56 1134.16,305.29 C1136.63,304.03 1139.11,302.9 1141.58,301.86 C1144.05,300.81 1146.52,299.88 1148.99,299.02 C1151.47,298.15 1153.94,297.38 1156.41,296.67 C1158.88,295.95 1161.36,295.32 1163.83,294.72 C1166.3,294.13 1168.77,293.61 1171.25,293.12 C1173.72,292.63 1176.19,292.19 1178.66,291.79 C1181.14,291.38 1183.61,291.02 1186.08,290.69 C1188.56,290.35 1191.03,290.06 1193.5,289.78 C1195.97,289.5 1198.44,289.25 1200.92,289.03 C1203.39,288.8 1205.86,288.59 1208.34,288.4 C1210.81,288.21 1213.28,288.05 1215.75,287.89 C1218.23,287.73 1220.7,287.59 1223.17,287.46 C1225.64,287.33 1228.12,287.22 1230.59,287.11 C1233.06,287 1235.53,286.91 1238.01,286.82 C1240.48,286.73 1242.95,286.65 1245.42,286.58 C1247.89,286.51 1250.37,286.44 1252.84,286.38 C1255.31,286.32 1257.78,286.26 1260.26,286.21 C1262.73,286.16 1265.2,286.12 1267.67,286.08 C1270.15,286.04 1272.62,286 1275.09,285.97 C1277.57,285.93 1280.04,285.9 1282.51,285.87 C1284.98,285.84 1288.28,285.81 1289.93,285.79 C1291.58,285.78 1291.99,285.78 1292.4,285.77" fill="none" stroke="#cccccc" stroke-width="13" stroke-linecap="butt"/>
<path d="M775.6,14.6 C776.08,20.5 777.55,37.43 778.5,50 C779.45,62.57 780.18,76.67 781.3,90 C782.42,103.33 783.83,116.67 785.2,130 C786.57,143.33 788.42,161.33 789.5,170 C790.58,178.67 790.7,176.17 791.7,182 C792.7,187.83 794.2,196.9 795.5,205 C796.8,213.1 798.43,222.93 799.5,230.6 C800.57,238.27 800.68,243.33 801.9,251 C803.12,258.67 805.27,268.93 806.8,276.6 C808.33,284.27 809.6,290.1 811.1,297 C812.6,303.9 815.02,314.5 815.8,318" fill="none" stroke="#0000ff" stroke-width="3.1" stroke-dasharray="9.5 2.8 3.5 3.1" />
<path d="M781.5,14.6 C782.15,20.5 784.02,37.43 785.4,50 C786.78,62.57 788.03,76.67 789.8,90 C791.57,103.33 793.88,116.67 796,130 C798.12,143.33 800.92,160.83 802.5,170 C804.08,179.17 804.5,180 805.5,185 C806.5,190 807.15,194.67 808.5,200 C809.85,205.33 811.75,211.33 813.6,217 C815.45,222.67 817.33,228.32 819.6,234 C821.87,239.68 824.37,245.98 827.2,251.1 C830.03,256.22 833.18,260.17 836.6,264.7 C840.02,269.23 843.87,274.05 847.7,278.3 C851.53,282.55 857.62,288.22 859.6,290.2" fill="none" stroke="#0000ff" stroke-width="3.1" stroke-dasharray="9.5 2.8 3.5 3.1" />
<path d="M786.4,14.6 C787.08,20.5 788.93,37.43 790.5,50 C792.07,62.57 793.63,76.67 795.8,90 C797.97,103.33 800.8,116.67 803.5,130 C806.2,143.33 809.83,160.83 812,170 C814.17,179.17 814.95,180 816.5,185 C818.05,190 819.52,195.23 821.3,200 C823.08,204.77 824.65,208.5 827.2,213.6 C829.75,218.7 833.18,224.92 836.6,230.6 C840.02,236.28 843.87,242.58 847.7,247.7 C851.53,252.82 855.35,257.62 859.6,261.3 C863.85,264.98 869.8,267.97 873.2,269.8 C876.6,271.63 876.98,271.35 880,272.3 C883.02,273.25 889.42,274.97 891.3,275.5" fill="none" stroke="#0000ff" stroke-width="3.1" stroke-dasharray="9.5 2.8 3.5 3.1" />
<path d="M786.4,14.6 C787.08,20.5 788.93,37.43 790.5,50 C792.07,62.57 793.63,76.67 795.8,90 C797.97,103.33 800.8,116.67 803.5,130 C806.2,143.33 810,160.83 812,170 C814,179.17 814.38,180 815.5,185 C816.62,190 817.32,194.67 818.7,200 C820.08,205.33 821.38,210.77 823.8,217 C826.22,223.23 829.78,231.15 833.2,237.4 C836.62,243.65 840.47,249.38 844.3,254.5 C848.13,259.62 851.95,264.13 856.2,268.1 C860.45,272.07 865.83,276.03 869.8,278.3 C873.77,280.57 878.3,281.13 880,281.7" fill="none" stroke="#0000ff" stroke-width="3.1" stroke-dasharray="9.5 2.8 3.5 3.1" />
<path d="M815.8,318 C816.85,320.67 819.92,328.77 822.1,334 C824.28,339.23 826.48,344 828.9,349.4 C831.32,354.8 833.75,361.58 836.6,366.4 C839.45,371.22 842.17,374.62 846,378.3 C849.83,381.98 855.35,386.08 859.6,388.5 C863.85,390.92 868.03,391.82 871.5,392.8 C874.97,393.78 877.2,394.1 880.4,394.4 C883.6,394.7 886.6,394.97 890.7,394.6 C894.8,394.23 899.9,393.37 905,392.2 C910.1,391.03 915.17,389.57 921.3,387.6 C927.43,385.63 935.35,382.45 941.8,380.4 C948.25,378.35 952.95,377.33 960,375.3 C967.05,373.27 974.4,370.67 984.1,368.2 C993.8,365.73 1006.85,362.78 1018.2,360.5 C1029.55,358.22 1040,356.2 1052.2,354.5 C1064.4,352.8 1084.37,351.03 1091.4,350.3 C1098.43,349.57 1093.9,350.13 1094.4,350.1" fill="none" stroke="#0000ff" stroke-width="3" />
<path d="M859.6,290.2 C861.58,291.48 866.22,295.42 871.5,297.9 C876.78,300.38 885.38,303.53 891.3,305.1 C897.22,306.67 901.88,306.65 907,307.3 C912.12,307.95 917.17,308.38 922,309 C926.83,309.62 931.33,310.17 936,311 C940.67,311.83 941.98,312.43 950,314 C958.02,315.57 972.73,318.47 984.1,320.4 C995.47,322.33 1006.85,324.13 1018.2,325.6 C1029.55,327.07 1040,328.33 1052.2,329.2 C1064.4,330.07 1084.37,330.52 1091.4,330.8 C1098.43,331.08 1093.9,330.88 1094.4,330.9" fill="none" stroke="#0000ff" stroke-width="3" />
<path d="M891.3,275.5 C893.85,276.22 900.98,278.55 906.6,279.8 C912.22,281.05 917.77,282.23 925,283 C932.23,283.77 939.17,284.23 950,284.4 C960.83,284.57 975,284.08 990,284 C1005,283.92 1026.17,284.07 1040,283.9 C1053.83,283.73 1064.17,283.07 1073,283 C1081.83,282.93 1089.67,283.42 1093,283.5" fill="none" stroke="#0000ff" stroke-width="3" />
<path d="M880,281.7 C881.88,282.15 886.3,283.18 891.3,284.4 C896.3,285.62 900.22,287.72 910,289 C919.78,290.28 935,291.43 950,292.1 C965,292.77 981.67,292.85 1000,293 C1018.33,293.15 1044.5,292.95 1060,293 C1075.5,293.05 1087.5,293.25 1093,293.3" fill="none" stroke="#0000ff" stroke-width="3" />
<path d="M1097.6,283.4 C1099.67,283.37 1105.98,283.2 1110,283.2 C1114.02,283.2 1118.37,283.02 1121.7,283.4 C1125.03,283.78 1127.02,284.85 1130,285.5 C1132.98,286.15 1134.6,286.95 1139.6,287.3 C1144.6,287.65 1134.53,287.55 1160,287.6 C1185.47,287.65 1270.33,287.6 1292.4,287.6" fill="none" stroke="#0000ff" stroke-width="3" />
<path d="M1097.6,292.8 C1098,292.8 1098.6,292.47 1100,292.8 C1101.4,293.13 1103.65,293.88 1106,294.8 C1108.35,295.72 1110.48,297.28 1114.1,298.3 C1117.72,299.32 1121.72,300.35 1127.7,300.9 C1133.68,301.45 1122.55,301.45 1150,301.6 C1177.45,301.75 1268.67,301.77 1292.4,301.8" fill="none" stroke="#0000ff" stroke-width="3" />
<path d="M1097.1,330 C1097.42,329.77 1097.58,329.62 1099,328.6 C1100.42,327.58 1103.1,325.67 1105.6,323.9 C1108.1,322.13 1111.17,319.85 1114,318 C1116.83,316.15 1118.9,314.95 1122.6,312.8 C1126.3,310.65 1131.95,306.98 1136.2,305.1 C1140.45,303.22 1144.13,302.08 1148.1,301.5 C1152.07,300.92 1158.02,301.58 1160,301.6" fill="none" stroke="#0000ff" stroke-width="3" />
<path d="M1097.1,349 C1097.42,348.8 1097.58,348.4 1099,347.8 C1100.42,347.2 1101.67,346.12 1105.6,345.4 C1109.53,344.68 1110.2,343.9 1122.6,343.5 C1135,343.1 1151.7,343.17 1180,343 C1208.3,342.83 1273.67,342.58 1292.4,342.5" fill="none" stroke="#0000ff" stroke-width="3" />
<line x1="769.47" y1="11.5" x2="769.47" y2="443.9" stroke="#7e2f8e" stroke-width="1.5" stroke-dasharray="11.8 6.91" stroke-dashoffset="9.5"/>
<line x1="788.42" y1="11.5" x2="788.42" y2="443.9" stroke="#7e2f8e" stroke-width="1.5" stroke-dasharray="11.8 6.91" stroke-dashoffset="9.5"/>
<path d="M743.47,16.91 C743.53,18.08 743.72,21.64 743.85,23.97 C743.98,26.31 744.1,28.62 744.23,30.9 C744.36,33.19 744.48,35.46 744.61,37.7 C744.73,39.95 744.86,42.17 744.99,44.37 C745.11,46.58 745.24,48.76 745.37,50.92 C745.49,53.08 745.62,55.21 745.75,57.33 C745.87,59.45 746,61.55 746.12,63.62 C746.25,65.7 746.38,67.76 746.5,69.79 C746.63,71.83 746.76,73.85 746.88,75.85 C747.01,77.84 747.13,79.82 747.26,81.78 C747.39,83.74 747.51,85.68 747.64,87.6 C747.77,89.52 747.89,91.42 748.02,93.3 C748.15,95.18 748.27,97.05 748.4,98.89 C748.52,100.74 748.65,102.57 748.78,104.38 C748.9,106.19 749.03,107.98 749.16,109.75 C749.28,111.53 749.41,113.28 749.54,115.02 C749.66,116.76 749.79,118.48 749.91,120.19 C750.04,121.89 750.15,123.31 750.29,125.25 C750.44,127.19 750.63,129.67 750.8,131.84 C750.97,134.01 751.14,136.15 751.3,138.26 C751.47,140.37 751.64,142.46 751.81,144.51 C751.98,146.57 752.15,148.59 752.31,150.59 C752.48,152.59 752.65,154.56 752.82,156.51 C752.99,158.46 753.16,160.38 753.33,162.27 C753.49,164.16 753.66,166.03 753.83,167.87 C754,169.71 754.17,171.53 754.34,173.32 C754.5,175.12 754.67,176.88 754.84,178.63 C755.01,180.37 755.18,182.09 755.35,183.78 C755.52,185.48 755.66,186.95 755.85,188.8 C756.04,190.65 756.27,192.88 756.48,194.87 C756.69,196.86 756.91,198.82 757.12,200.74 C757.33,202.66 757.54,204.55 757.75,206.4 C757.96,208.25 758.17,210.07 758.38,211.86 C758.59,213.65 758.8,215.41 759.01,217.13 C759.22,218.86 759.41,220.39 759.64,222.22 C759.87,224.04 760.15,226.17 760.4,228.08 C760.65,229.99 760.91,231.86 761.16,233.69 C761.41,235.52 761.66,237.31 761.92,239.06 C762.17,240.81 762.4,242.38 762.67,244.19 C762.95,245.99 763.26,248.04 763.56,249.89 C763.85,251.74 764.15,253.54 764.44,255.3 C764.74,257.05 765.01,258.65 765.33,260.42 C765.64,262.2 766,264.16 766.34,265.95 C766.68,267.73 766.99,269.36 767.35,271.14 C767.71,272.91 768.11,274.84 768.49,276.59 C768.87,278.34 769.22,279.95 769.62,281.66 C770.02,283.37 770.44,285.12 770.89,286.86 C771.33,288.6 771.79,290.37 772.28,292.1 C772.76,293.84 773.27,295.58 773.79,297.27 C774.32,298.97 774.87,300.66 775.43,302.29 C776,303.91 776.57,305.47 777.2,307.05 C777.84,308.62 778.49,310.19 779.23,311.75 C779.96,313.31 780.76,314.93 781.63,316.42 C782.49,317.92 783.39,319.38 784.41,320.73 C785.42,322.08 786.47,323.38 787.69,324.52 C788.91,325.65 790.26,326.76 791.73,327.55 C793.21,328.35 794.89,328.98 796.53,329.3 C798.18,329.63 799.92,329.63 801.59,329.49 C803.25,329.35 804.89,328.93 806.51,328.46 C808.14,327.98 809.76,327.31 811.32,326.63 C812.87,325.96 814.37,325.18 815.86,324.38 C817.36,323.59 818.83,322.73 820.29,321.87 C821.74,321 823.15,320.12 824.58,319.22 C826.01,318.32 827.44,317.39 828.88,316.46 C830.31,315.54 831.74,314.6 833.17,313.67 C834.6,312.73 836.04,311.8 837.47,310.88 C838.9,309.95 840.33,309.03 841.76,308.13 C843.2,307.23 844.63,306.34 846.06,305.47 C847.49,304.59 848.9,303.75 850.35,302.9 C851.81,302.05 853.3,301.19 854.78,300.37 C856.25,299.55 857.7,298.76 859.2,297.97 C860.69,297.19 862.23,296.4 863.75,295.65 C865.26,294.9 866.76,294.18 868.29,293.47 C869.83,292.76 871.41,292.05 872.97,291.38 C874.53,290.71 876.09,290.06 877.64,289.44 C879.2,288.82 880.74,288.23 882.32,287.65 C883.9,287.07 885.52,286.49 887.12,285.95 C888.72,285.41 890.32,284.89 891.92,284.39 C893.52,283.9 895.1,283.43 896.72,282.97 C898.34,282.51 900.01,282.06 901.65,281.63 C903.29,281.21 904.93,280.8 906.58,280.41 C908.22,280.03 909.86,279.66 911.5,279.31 C913.15,278.96 914.79,278.63 916.43,278.31 C918.07,277.99 919.69,277.69 921.36,277.4 C923.02,277.11 924.73,276.82 926.41,276.56 C928.1,276.29 929.78,276.04 931.46,275.8 C933.15,275.56 934.83,275.33 936.52,275.12 C938.2,274.9 939.89,274.7 941.57,274.5 C943.26,274.31 944.94,274.12 946.63,273.95 C948.31,273.77 949.99,273.61 951.68,273.45 C953.36,273.3 955.05,273.15 956.73,273.01 C958.42,272.87 960.1,272.73 961.79,272.61 C963.47,272.48 965.16,272.36 966.84,272.25 C968.52,272.13 970.21,272.03 971.89,271.93 C973.58,271.82 975.26,271.73 976.95,271.64 C978.63,271.55 980.32,271.46 982,271.38 C983.69,271.3 985.37,271.22 987.05,271.15 C988.74,271.08 990.42,271.01 992.11,270.94 C993.79,270.88 995.48,270.82 997.16,270.76 C998.85,270.7 1000.53,270.65 1002.22,270.59 C1003.9,270.54 1005.58,270.49 1007.27,270.45 C1008.95,270.4 1010.64,270.35 1012.32,270.31 C1014.01,270.27 1015.69,270.23 1017.38,270.19 C1019.06,270.16 1020.75,270.12 1022.43,270.09 C1024.11,270.06 1025.8,270.02 1027.48,270 C1029.17,269.97 1030.85,269.94 1032.54,269.91 C1034.22,269.88 1035.91,269.86 1037.59,269.84 C1039.28,269.81 1040.96,269.79 1042.64,269.77 C1044.33,269.75 1046.01,269.73 1047.7,269.71 C1049.38,269.69 1051.07,269.67 1052.75,269.65 C1054.44,269.64 1056.12,269.62 1057.8,269.61 C1059.49,269.59 1061.17,269.58 1062.86,269.56 C1064.54,269.55 1066.23,269.54 1067.91,269.53 C1069.6,269.51 1071.28,269.5 1072.97,269.49 C1074.65,269.48 1076.33,269.47 1078.02,269.46 C1079.7,269.45 1081.39,269.44 1083.07,269.43 C1084.76,269.43 1086.44,269.42 1088.13,269.41 C1089.81,269.4 1092.11,269.39 1093.18,269.39 C1094.25,269.38 1094.32,269.38 1094.54,269.38" fill="none" stroke="#ff0000" stroke-width="3" stroke-dasharray="2.7 1.9" />
<path d="M788.97,16.9 C789.1,17.86 789.48,20.75 789.73,22.63 C789.98,24.5 790.23,26.36 790.49,28.18 C790.74,30.01 790.99,31.81 791.24,33.58 C791.5,35.36 791.75,37.11 792,38.83 C792.25,40.56 792.51,42.26 792.76,43.94 C793.01,45.62 793.24,47.15 793.52,48.91 C793.79,50.68 794.11,52.7 794.4,54.55 C794.7,56.4 794.99,58.22 795.29,60.01 C795.58,61.8 795.88,63.57 796.17,65.31 C796.47,67.05 796.76,68.76 797.06,70.45 C797.35,72.14 797.62,73.69 797.94,75.44 C798.26,77.19 798.61,79.16 798.95,80.97 C799.29,82.78 799.62,84.57 799.96,86.32 C800.3,88.07 800.64,89.8 800.97,91.5 C801.31,93.2 801.63,94.77 801.98,96.51 C802.34,98.26 802.74,100.18 803.12,101.97 C803.5,103.76 803.88,105.51 804.26,107.23 C804.64,108.96 805.02,110.65 805.39,112.32 C805.77,113.99 806.13,115.54 806.53,117.23 C806.93,118.93 807.37,120.77 807.79,122.5 C808.22,124.22 808.64,125.91 809.06,127.56 C809.48,129.22 809.88,130.77 810.32,132.45 C810.76,134.12 811.25,135.93 811.71,137.62 C812.17,139.3 812.62,140.89 813.1,142.58 C813.59,144.27 814.11,146.07 814.62,147.77 C815.12,149.46 815.61,151.05 816.13,152.74 C816.66,154.42 817.23,156.21 817.78,157.88 C818.32,159.56 818.85,161.14 819.42,162.8 C819.99,164.46 820.6,166.2 821.19,167.84 C821.78,169.48 822.34,171.02 822.96,172.64 C823.57,174.25 824.22,175.94 824.85,177.52 C825.48,179.11 826.09,180.6 826.75,182.16 C827.4,183.71 828.07,185.27 828.77,186.84 C829.46,188.4 830.18,189.97 830.91,191.53 C831.65,193.09 832.41,194.66 833.19,196.21 C833.97,197.76 834.77,199.31 835.59,200.84 C836.41,202.37 837.25,203.89 838.12,205.39 C838.98,206.89 839.86,208.38 840.77,209.84 C841.67,211.31 842.6,212.75 843.55,214.17 C844.5,215.59 845.47,216.99 846.45,218.36 C847.44,219.73 848.43,221.06 849.49,222.4 C850.54,223.74 851.66,225.1 852.77,226.4 C853.89,227.7 855.02,228.97 856.18,230.2 C857.34,231.43 858.5,232.61 859.72,233.78 C860.94,234.96 862.23,236.14 863.51,237.26 C864.8,238.37 866.1,239.45 867.43,240.49 C868.75,241.53 870.1,242.52 871.47,243.48 C872.84,244.44 874.21,245.35 875.64,246.24 C877.07,247.14 878.57,248.02 880.06,248.85 C881.56,249.68 883.09,250.47 884.61,251.22 C886.13,251.96 887.62,252.65 889.16,253.31 C890.69,253.98 892.25,254.61 893.83,255.21 C895.41,255.82 897.03,256.39 898.63,256.93 C900.23,257.46 901.81,257.96 903.43,258.43 C905.06,258.91 906.72,259.36 908.36,259.79 C910,260.21 911.65,260.6 913.29,260.97 C914.93,261.34 916.57,261.68 918.22,262 C919.86,262.33 921.48,262.62 923.14,262.91 C924.81,263.19 926.51,263.47 928.2,263.72 C929.88,263.97 931.57,264.2 933.25,264.42 C934.93,264.64 936.62,264.85 938.3,265.04 C939.99,265.23 941.67,265.41 943.36,265.58 C945.04,265.74 946.73,265.9 948.41,266.04 C950.1,266.19 951.78,266.32 953.46,266.45 C955.15,266.58 956.83,266.69 958.52,266.8 C960.2,266.92 961.89,267.02 963.57,267.11 C965.26,267.21 966.94,267.3 968.63,267.38 C970.31,267.47 971.99,267.54 973.68,267.62 C975.36,267.69 977.05,267.76 978.73,267.82 C980.42,267.89 982.1,267.95 983.79,268 C985.47,268.06 987.16,268.11 988.84,268.16 C990.52,268.2 992.21,268.25 993.89,268.29 C995.58,268.33 997.26,268.37 998.95,268.41 C1000.63,268.45 1002.32,268.48 1004,268.51 C1005.69,268.54 1007.37,268.57 1009.05,268.6 C1010.74,268.63 1012.42,268.66 1014.11,268.68 C1015.79,268.7 1017.48,268.73 1019.16,268.75 C1020.85,268.77 1022.53,268.79 1024.22,268.81 C1025.9,268.83 1027.58,268.84 1029.27,268.86 C1030.95,268.88 1032.64,268.89 1034.32,268.9 C1036.01,268.92 1037.69,268.93 1039.38,268.94 C1041.06,268.96 1042.75,268.97 1044.43,268.98 C1046.11,268.99 1047.8,269 1049.48,269.01 C1051.17,269.02 1052.85,269.03 1054.54,269.03 C1056.22,269.04 1057.91,269.05 1059.59,269.06 C1061.27,269.06 1062.96,269.07 1064.64,269.08 C1066.33,269.08 1068.01,269.09 1069.7,269.09 C1071.38,269.1 1073.07,269.1 1074.75,269.11 C1076.44,269.11 1078.12,269.12 1079.8,269.12 C1081.49,269.13 1083.17,269.13 1084.86,269.13 C1086.54,269.14 1088.3,269.14 1089.91,269.14 C1091.53,269.15 1093.77,269.15 1094.54,269.15" fill="none" stroke="#ff0000" stroke-width="3" stroke-dasharray="2.7 1.9" />
<path d="M1094.6,269.5 L1292.4,269.5" fill="none" stroke="#ff0000" stroke-width="3" stroke-dasharray="2.7 1.9" />
<path d="M860.26,443.9 C862.21,441.5 868.07,433.87 871.97,429.49 C875.88,425.1 879.78,421.25 883.69,417.61 C887.59,413.96 891.5,410.7 895.4,407.62 C899.3,404.53 903.21,401.74 907.11,399.09 C911.02,396.44 914.92,394.01 918.83,391.71 C922.73,389.4 926.64,387.28 930.54,385.25 C934.45,383.23 938.35,381.35 942.26,379.56 C946.16,377.76 950.07,376.09 953.97,374.49 C957.88,372.88 961.78,371.38 965.69,369.94 C969.59,368.51 973.5,367.15 977.4,365.85 C981.31,364.55 985.21,363.32 989.12,362.14 C993.02,360.96 996.92,359.84 1000.83,358.76 C1004.73,357.68 1008.64,356.66 1012.54,355.67 C1016.45,354.68 1020.35,353.74 1024.26,352.83 C1028.16,351.92 1032.07,351.05 1035.97,350.21 C1039.88,349.37 1043.78,348.57 1047.69,347.79 C1051.59,347.02 1055.5,346.27 1059.4,345.55 C1063.31,344.83 1067.21,344.13 1071.12,343.46 C1075.02,342.79 1078.93,342.14 1082.83,341.52 C1086.74,340.89 1092.59,340 1094.54,339.7 C1096.5,339.39 1094.54,339.7 1094.54,339.7" fill="none" stroke="#000" stroke-width="3" stroke-dasharray="8.5 10.3" />
<path d="M1094.6,340.18 C1096.25,338.13 1101.19,331.53 1104.49,327.9 C1107.79,324.27 1111.08,321.2 1114.38,318.39 C1117.68,315.58 1120.97,313.2 1124.27,311.02 C1127.57,308.83 1130.86,306.99 1134.16,305.29 C1137.46,303.6 1140.75,302.17 1144.05,300.85 C1147.35,299.54 1150.64,298.42 1153.94,297.4 C1157.24,296.38 1160.53,295.52 1163.83,294.72 C1167.13,293.93 1170.42,293.26 1173.72,292.65 C1177.02,292.03 1180.31,291.51 1183.61,291.03 C1186.91,290.55 1190.2,290.15 1193.5,289.78 C1196.8,289.41 1200.09,289.09 1203.39,288.81 C1206.69,288.52 1209.98,288.27 1213.28,288.05 C1216.58,287.83 1219.87,287.64 1223.17,287.46 C1226.47,287.29 1229.76,287.14 1233.06,287.01 C1236.36,286.87 1239.65,286.76 1242.95,286.65 C1246.25,286.55 1249.54,286.46 1252.84,286.38 C1256.14,286.3 1259.43,286.23 1262.73,286.17 C1266.03,286.1 1269.32,286.05 1272.62,286 C1275.92,285.95 1279.21,285.91 1282.51,285.87 C1285.81,285.83 1290.75,285.79 1292.4,285.77 C1294.05,285.76 1292.4,285.77 1292.4,285.77" fill="none" stroke="#000" stroke-width="3" stroke-dasharray="8.5 10.3" />
<line x1="1094.6" y1="11.5" x2="1094.6" y2="443.9" stroke="#000" stroke-width="2.6" stroke-dasharray="2.4 2.4"/>
<line x1="1154.6" y1="167.2" x2="1121.7" y2="283.2" stroke="#0000ff" stroke-width="1"/>
<path d="M1121.7,283.2 L1119.89,265.74 L1124.46,273.48 L1132.4,269.29 Z" fill="#0000ff"/>
<line x1="1252.7" y1="214.5" x2="1252.7" y2="284" stroke="#000" stroke-width="1"/>
<path d="M1252.7,284 L1246.2,267.7 L1252.7,273.89 L1259.2,267.7 Z" fill="#000"/>
<line x1="865.7" y1="334.1" x2="852.5" y2="310.2" stroke="#ff0000" stroke-width="1"/>
<path d="M852.5,310.2 L866.07,321.33 L857.39,319.05 L854.69,327.61 Z" fill="#ff0000"/>
<g font-family="Liberation Sans, sans-serif" fill="#ff0000">
<text x="865" y="223.1" font-size="21.5" xml:space="preserve">2</text>
<text transform="translate(878.53,237.1) scale(1.15,1)" font-family="Liberation Serif, serif" font-size="30">Σ</text>
<text x="899.1" y="224.6" font-size="23.5" xml:space="preserve">+</text>
<text x="899.4" y="250.8" font-size="21.5" xml:space="preserve">u</text>
<text x="913.3" y="237.1" font-size="28" xml:space="preserve">(2p</text>
<text x="954.2" y="237.1" font-size="25" font-style="italic" xml:space="preserve">σ</text>
<text x="970.7" y="250.8" font-size="21.5" xml:space="preserve">u</text>
<text x="984" y="237.1" font-size="28" xml:space="preserve">)</text>
</g>
<g font-family="Liberation Sans, sans-serif" fill="#ff0000">
<text x="835.5" y="368.8" font-size="28" xml:space="preserve">X</text>
<text x="854.7" y="355" font-size="21.5" xml:space="preserve">2</text>
<text transform="translate(868.13,368.8) scale(1.15,1)" font-family="Liberation Serif, serif" font-size="30">Σ</text>
<text x="888.7" y="357.4" font-size="23.5" xml:space="preserve">+</text>
<text x="889.4" y="382.8" font-size="21.5" xml:space="preserve">g</text>
</g>
<g font-family="Liberation Sans, sans-serif" fill="#0000ff">
<text x="903.4" y="336.1" font-size="21.5" xml:space="preserve">1</text>
<text transform="translate(915.93,350.4) scale(1.15,1)" font-family="Liberation Serif, serif" font-size="30">Σ</text>
<text x="936.6" y="338.8" font-size="23.5" xml:space="preserve">+</text>
<text x="937" y="364.1" font-size="21.5" xml:space="preserve">u</text>
<text x="957.8" y="350.4" font-size="28" xml:space="preserve">(1)</text>
</g>
<g font-family="Liberation Sans, sans-serif" fill="#0000ff">
<text x="779.4" y="403.8" font-size="21.5" xml:space="preserve">1</text>
<text transform="translate(791.83,418.2) scale(1.15,1)" font-family="Liberation Serif, serif" font-size="30">Σ</text>
<text x="812.6" y="405.8" font-size="23.5" xml:space="preserve">+</text>
<text x="812.8" y="432.6" font-size="21.5" xml:space="preserve">g</text>
<text x="834.5" y="418.2" font-size="28" xml:space="preserve">(1)</text>
</g>
<g font-family="Liberation Sans, sans-serif" fill="#0000ff">
<text x="1125.4" y="158.7" font-size="28" xml:space="preserve">H + H* (n=4)</text>
</g>
<g font-family="Liberation Sans, sans-serif" fill="#000">
<text x="1182.6" y="204" font-size="28" xml:space="preserve">H</text>
<text x="1204.1" y="192" font-size="23.5" xml:space="preserve">+</text>
<text x="1225.6" y="204" font-size="28" xml:space="preserve">+</text>
<text x="1249.6" y="204" font-size="28" xml:space="preserve">H</text>
<text x="1270.5" y="190.5" font-size="21.5" xml:space="preserve">-</text>
</g>
<g font-family="Liberation Sans, sans-serif" fill="#ff0000">
<text x="1158.4" y="257.3" font-size="28" xml:space="preserve">H + H</text>
<text x="1232.1" y="245.5" font-size="23.5" xml:space="preserve">+</text>
</g>
<g font-family="Liberation Sans, sans-serif" fill="#0000ff">
<text x="1134.5" y="331.9" font-size="28" xml:space="preserve">H + H* (n=3)</text>
</g>
<g font-family="Liberation Sans, sans-serif" fill="#0000ff">
<text x="1138.2" y="372.6" font-size="28" xml:space="preserve">H + H* (n=2)</text>
</g>
<text transform="translate(28.1,396.9) rotate(-90)" font-family="Liberation Sans, sans-serif" font-size="37.5" fill="#3c3c3c">Potential Energy (eV)</text>
</svg>
</body></html>
